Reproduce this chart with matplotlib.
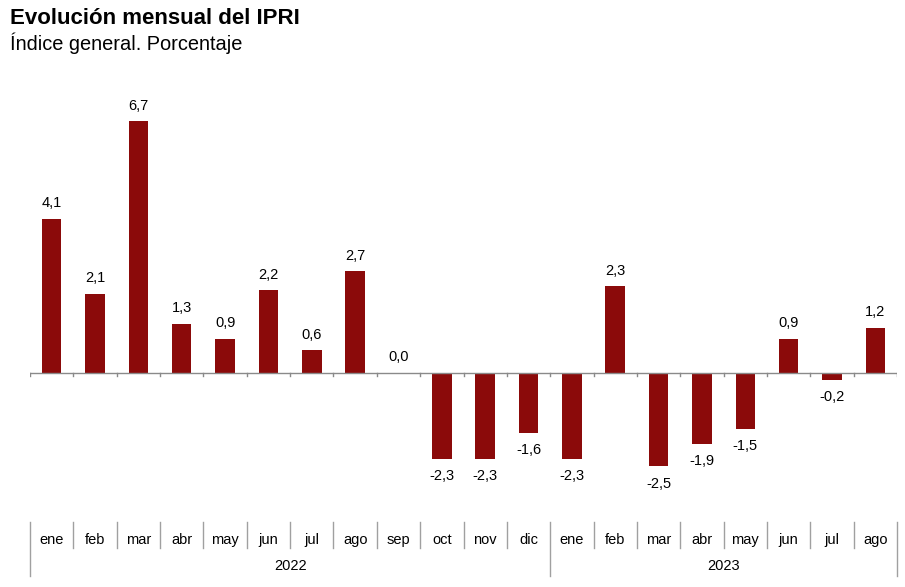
import matplotlib.pyplot as plt
import matplotlib.transforms as mtransforms

months = ['ene', 'feb', 'mar', 'abr', 'may', 'jun', 'jul', 'ago', 'sep', 'oct', 'nov', 'dic',
          'ene', 'feb', 'mar', 'abr', 'may', 'jun', 'jul', 'ago']
values = [4.1, 2.1, 6.7, 1.3, 0.9, 2.2, 0.6, 2.7, 0.0, -2.3, -2.3, -1.6,
          -2.3, 2.3, -2.5, -1.9, -1.5, 0.9, -0.2, 1.2]
years = ['2022', '2023']
year_counts = [12, 8]


def main():
    plt.rcParams['font.family'] = ['Liberation Sans', 'DejaVu Sans']
    fig = plt.figure(figsize=(9.05, 5.87), dpi=100)
    ax = fig.add_axes([30 / 905, 87 / 587, 867 / 905, 420 / 587])

    x = list(range(len(values)))
    ax.bar(x, values, width=0.45, color='#8B0A0A', zorder=2)
    ax.set_xlim(-0.5, len(values) - 0.5)
    ax.set_ylim(-3.4, 7.8)
    ax.axhline(0, color='#8a8a8a', lw=1, zorder=3)
    for s in ax.spines.values():
        s.set_visible(False)
    ax.set_xticks([])
    ax.set_yticks([])

    # small tick marks on the zero line
    for b in range(len(values) + 1):
        ax.plot([b - 0.5, b - 0.5], [0, -0.08], color='#8a8a8a', lw=1, zorder=3)

    # value labels
    for xi, v in zip(x, values):
        lbl = f'{v:.1f}'.replace('.', ',')
        if v >= 0:
            ax.annotate(lbl, (xi, v), xytext=(0, 6), textcoords='offset points',
                        ha='center', va='bottom', fontsize=10.5)
        else:
            ax.annotate(lbl, (xi, v), xytext=(0, -7.5), textcoords='offset points',
                        ha='center', va='top', fontsize=10.5)

    # category table under the chart
    trans = mtransforms.blended_transform_factory(ax.transData, fig.transFigure)
    def fy(py):
        return 1 - py / 587

    for i, m in enumerate(months):
        fig.text(i, fy(540), m, transform=trans, ha='center', va='center', fontsize=10.5)

    boundaries = [-0.5]
    acc = -0.5
    for c in year_counts:
        acc += c
        boundaries.append(acc)
    for b in range(len(values) + 1):
        xb = b - 0.5
        if xb in boundaries:
            y0, y1 = fy(576), fy(522)
        else:
            y0, y1 = fy(548), fy(522)
        fig.add_artist(plt.Line2D([xb, xb], [y0, y1], transform=trans,
                                  color='#a0a0a0', lw=1))

    for yr, a, b in zip(years, boundaries[:-1], boundaries[1:]):
        fig.text((a + b) / 2, fy(566), yr, transform=trans, ha='center', va='center',
                 fontsize=10.5)

    fig.text(10 / 905, fy(18), 'Evolución mensual del IPRI', fontsize=16,
             fontweight='bold', ha='left', va='center')
    fig.text(10 / 905, fy(43), 'Índice general. Porcentaje', fontsize=14.4,
             ha='left', va='center')

    fig.savefig('out.png', dpi=100)


if __name__ == "__main__":
    main()
